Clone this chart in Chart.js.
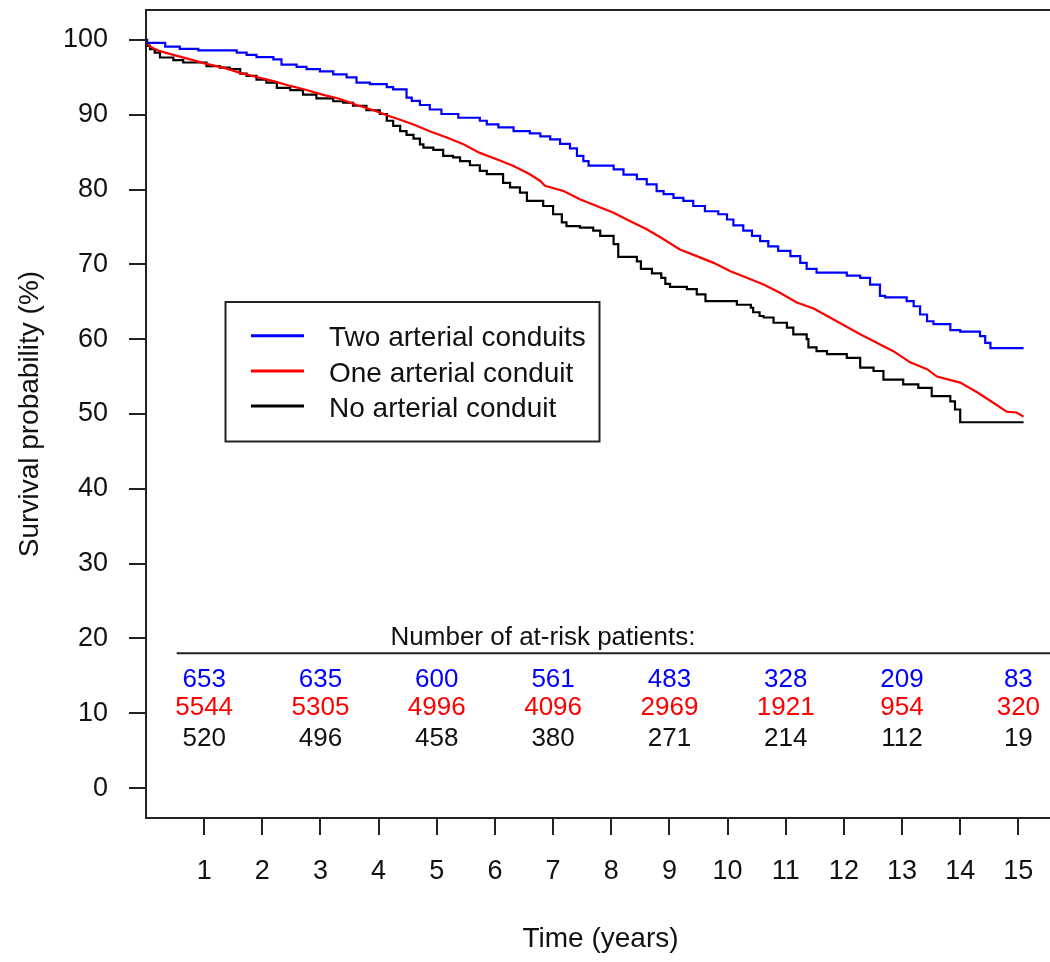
<!DOCTYPE html>
<html>
<head>
<meta charset="utf-8">
<title>Kaplan-Meier survival by number of arterial conduits</title>
<script src="https://cdn.jsdelivr.net/npm/chart.js@4.4.1/dist/chart.umd.min.js"></script>
<style>
  html, body { margin: 0; padding: 0; background: #fff; overflow: hidden; }
  #wrap { width: 1062px; height: 962px; }
</style>
</head>
<body>
<div id="wrap"><canvas id="km" width="1062" height="962"></canvas></div>
<script>
const FONT = '"Liberation Sans", Arial, Helvetica, sans-serif';

// Series names and colours
const seriesLabels = ['Two arterial conduits', 'One arterial conduit', 'No arterial conduit'];
const seriesColors = ['#0000ff', '#ff0000', '#000000'];

// Two arterial conduits: step times (years) and survival (%)
const twoTime = [0, 0.01, 0.33, 0.58, 0.90, 1.56, 1.73, 1.90, 2.19, 2.33, 2.59, 2.76, 2.99, 3.22, 3.45, 3.62, 3.85, 4.14, 4.25, 4.48,
  4.57, 4.71, 4.88, 5.08, 5.37, 5.74, 5.86, 6.06, 6.32, 6.60, 6.78, 6.95, 7.12, 7.29, 7.41, 7.52, 7.61, 8.04, 8.21, 8.44,
  8.61, 8.78, 8.90, 9.07, 9.24, 9.41, 9.61, 9.84, 9.99, 10.10, 10.27, 10.42, 10.56, 10.70, 10.87, 11.08, 11.25, 11.36, 11.53, 12.05,
  12.28, 12.45, 12.62, 12.71, 13.08, 13.20, 13.31, 13.43, 13.54, 13.83, 14.00, 14.34, 14.43, 14.52, 15.09];
const twoSurv = [100, 99.6, 99.1, 98.8, 98.6, 98.3, 98.0, 97.7, 97.4, 96.7, 96.4, 96.1, 95.8, 95.4, 95.0, 94.3, 94.1, 93.7, 93.4, 92.3,
  91.85, 91.3, 90.7, 90.1, 89.6, 89.2, 88.7, 88.3, 87.8, 87.5, 87.1, 86.7, 86.1, 85.5, 84.5, 83.8, 83.2, 82.7, 82.0, 81.4,
  80.7, 79.8, 79.4, 78.9, 78.5, 77.8, 77.1, 76.7, 76.0, 75.2, 74.5, 73.8, 73.1, 72.4, 71.8, 71.1, 70.2, 69.4, 68.9, 68.5,
  68.2, 67.3, 65.8, 65.6, 65.1, 64.4, 63.3, 62.4, 62.0, 61.2, 61.0, 60.4, 59.5, 58.8, 58.8];

// One arterial conduit (large group, fine-grained curve)
const oneTime = [0, 0.02, 0.07, 0.24, 0.47, 0.76, 1.04, 1.33, 1.62, 1.90, 2.19, 2.48, 2.76, 3.05, 3.34, 3.62, 3.91, 4.19, 4.31, 4.60,
  4.88, 5.17, 5.46, 5.74, 6.03, 6.32, 6.60, 6.78, 6.86, 7.18, 7.46, 7.75, 8.04, 8.32, 8.61, 8.90, 9.18, 9.47, 9.76, 10.04,
  10.33, 10.62, 10.90, 11.19, 11.48, 11.76, 12.28, 12.85, 13.14, 13.43, 13.60, 14.00, 14.29, 14.57, 14.80, 14.97, 15.09];
const oneSurv = [100, 99.6, 99.1, 98.5, 98.0, 97.4, 96.8, 96.3, 95.6, 95.05, 94.5, 93.85, 93.3, 92.65, 92.1, 91.3, 90.6, 89.8, 89.5, 88.7,
  87.8, 86.95, 86.05, 84.9, 84.05, 83.15, 82.05, 81.15, 80.5, 79.8, 78.7, 77.8, 76.9, 75.8, 74.7, 73.35, 72.0, 71.1, 70.2, 69.1,
  68.2, 67.3, 66.2, 64.9, 64.1, 62.9, 60.65, 58.4, 56.9, 56.0, 55.0, 54.2, 52.9, 51.5, 50.3, 50.2, 49.65];

// No arterial conduit
const noneTime = [0, 0.02, 0.07, 0.15, 0.24, 0.47, 0.64, 1.04, 1.27, 1.44, 1.62, 1.73, 1.90, 2.07, 2.25, 2.48, 2.70, 2.93, 3.22, 3.39,
  3.56, 3.79, 4.02, 4.14, 4.25, 4.37, 4.48, 4.60, 4.71, 4.77, 4.94, 5.11, 5.28, 5.40, 5.57, 5.74, 5.86, 6.14, 6.26, 6.43,
  6.55, 6.83, 7.00, 7.15, 7.23, 7.46, 7.69, 7.81, 8.04, 8.12, 8.44, 8.51, 8.70, 8.86, 8.93, 9.01, 9.30, 9.47, 9.62, 10.16,
  10.40, 10.44, 10.55, 10.62, 10.79, 11.02, 11.13, 11.36, 11.39, 11.53, 11.71, 12.05, 12.28, 12.51, 12.68, 13.02, 13.28, 13.51, 13.83, 13.91,
  14.00, 15.09];
const noneSurv = [100, 99.2, 98.76, 98.3, 97.65, 97.3, 96.98, 96.5, 96.3, 96.1, 95.5, 95.2, 94.7, 94.3, 93.6, 93.3, 92.7, 92.2, 91.8, 91.6,
  91.2, 90.6, 90.1, 89.2, 88.5, 87.8, 87.3, 86.8, 86.05, 85.6, 85.3, 84.5, 84.3, 83.8, 83.25, 82.5, 82.05, 80.9, 80.3, 79.6,
  78.5, 77.8, 76.7, 75.6, 75.1, 74.9, 74.5, 73.8, 72.7, 71.0, 70.4, 69.4, 68.8, 68.2, 67.4, 67.0, 66.7, 66.0, 65.1, 64.6,
  64.2, 63.6, 63.1, 62.9, 62.2, 61.55, 60.65, 60.0, 58.9, 58.4, 58.0, 57.5, 56.2, 55.75, 54.6, 53.97, 53.5, 52.4, 51.7, 50.6,
  48.9, 48.9];

// Axis ticks
const xTickValues = [1, 2, 3, 4, 5, 6, 7, 8, 9, 10, 11, 12, 13, 14, 15];
const yTickValues = [0, 10, 20, 30, 40, 50, 60, 70, 80, 90, 100];

// Number at risk table
const atRiskTitle = 'Number of at-risk patients:';
const atRiskTimes = [1, 3, 5, 7, 9, 11, 13, 15];
const atRiskTwo = [653, 635, 600, 561, 483, 328, 209, 83];
const atRiskOne = [5544, 5305, 4996, 4096, 2969, 1921, 954, 320];
const atRiskNone = [520, 496, 458, 380, 271, 214, 112, 19];

const INK = '#111';

function pairs(ts, vs) { return ts.map((t, i) => ({ x: t, y: vs[i] })); }

// Full box around the plotting region
const frame = {
  id: 'frame',
  afterDatasetsDraw(chart) {
    const { ctx, chartArea: a } = chart;
    ctx.save();
    ctx.strokeStyle = '#222';
    ctx.lineWidth = 2;
    ctx.strokeRect(a.left, a.top, a.right - a.left, a.bottom - a.top);
    ctx.restore();
  }
};

// Boxed key inside the plot
const keyBox = {
  id: 'keyBox',
  afterDraw(chart) {
    const ctx = chart.ctx;
    const box = { x: 225.5, y: 302, w: 374, h: 139.5 };
    const rows = [335.7, 371, 406];
    ctx.save();
    ctx.strokeStyle = '#222';
    ctx.lineWidth = 2;
    ctx.strokeRect(box.x, box.y, box.w, box.h);
    ctx.font = '28px ' + FONT;
    ctx.textAlign = 'left';
    ctx.textBaseline = 'middle';
    chart.data.datasets.forEach((ds, i) => {
      ctx.strokeStyle = ds.borderColor;
      ctx.lineWidth = 3;
      ctx.beginPath();
      ctx.moveTo(251, rows[i]);
      ctx.lineTo(304, rows[i]);
      ctx.stroke();
      ctx.fillStyle = INK;
      ctx.fillText(ds.label, 329, rows[i] + 3);
    });
    ctx.restore();
  }
};

// Patients at risk, printed under the curves
const atRisk = {
  id: 'atRisk',
  afterDraw(chart) {
    const ctx = chart.ctx;
    const xs = chart.scales.x;
    ctx.save();
    ctx.font = '26px ' + FONT;
    ctx.textAlign = 'center';
    ctx.textBaseline = 'middle';
    ctx.fillStyle = INK;
    ctx.fillText(atRiskTitle, 543, 638);
    ctx.strokeStyle = '#222';
    ctx.lineWidth = 2;
    ctx.beginPath();
    ctx.moveTo(176.7, 653.3);
    ctx.lineTo(chart.chartArea.right, 653.3);
    ctx.stroke();
    const rows = [
      { vals: atRiskTwo, color: seriesColors[0], y: 679.5 },
      { vals: atRiskOne, color: seriesColors[1], y: 708.2 },
      { vals: atRiskNone, color: INK, y: 738.5 }
    ];
    rows.forEach(r => {
      ctx.fillStyle = r.color;
      r.vals.forEach((v, i) => {
        ctx.fillText(String(v), xs.getPixelForValue(atRiskTimes[i]), r.y);
      });
    });
    ctx.restore();
  }
};

const axisGrid = { drawOnChartArea: false, drawTicks: true, tickLength: 17, color: '#222', lineWidth: 2 };

new Chart(document.getElementById('km'), {
  type: 'line',
  data: {
    datasets: [
      { label: seriesLabels[0], data: pairs(twoTime, twoSurv), borderColor: seriesColors[0], borderWidth: 2.2, pointRadius: 0, stepped: true, fill: false },
      { label: seriesLabels[1], data: pairs(oneTime, oneSurv), borderColor: seriesColors[1], borderWidth: 2.2, pointRadius: 0, stepped: false, tension: 0, fill: false },
      { label: seriesLabels[2], data: pairs(noneTime, noneSurv), borderColor: seriesColors[2], borderWidth: 2.2, pointRadius: 0, stepped: true, fill: false }
    ]
  },
  options: {
    responsive: false,
    animation: false,
    events: [],
    layout: { padding: { left: 0, top: 10, right: 7, bottom: 0 } },
    plugins: { legend: { display: false }, tooltip: { enabled: false } },
    scales: {
      x: {
        type: 'linear', min: 0, max: 15.63, bounds: 'data',
        afterBuildTicks: s => { s.ticks = xTickValues.map(v => ({ value: v })); },
        afterFit: s => { s.height = 144; s.paddingLeft = 0; s.paddingRight = 0; },
        grid: axisGrid,
        border: { display: false },
        ticks: { font: { family: FONT, size: 27 }, color: INK, padding: 20, maxRotation: 0, autoSkip: false },
        title: { display: true, text: 'Time (years)', font: { family: FONT, size: 28 }, color: INK, padding: { top: 0, bottom: 6 } }
      },
      y: {
        type: 'linear', min: -4, max: 104, bounds: 'data',
        afterBuildTicks: s => { s.ticks = yTickValues.map(v => ({ value: v })); },
        afterFit: s => { s.width = 146; s.paddingTop = 0; s.paddingBottom = 0; },
        grid: axisGrid,
        border: { display: false },
        ticks: { font: { family: FONT, size: 27 }, color: INK, padding: 21, autoSkip: false },
        title: { display: true, text: 'Survival probability (%)', font: { family: FONT, size: 28 }, color: INK, padding: { top: 13, bottom: 0 } }
      }
    }
  },
  plugins: [frame, keyBox, atRisk]
});
</script>
</body>
</html>
